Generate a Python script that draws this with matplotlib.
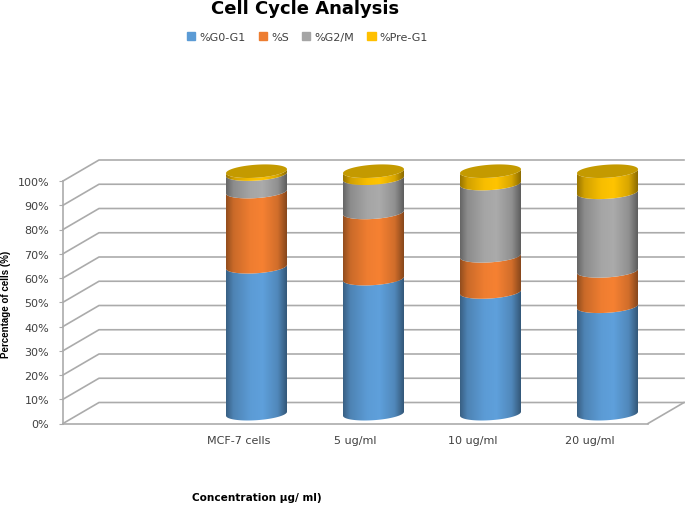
import numpy as np
import matplotlib
matplotlib.use("Agg")
import matplotlib.pyplot as plt
from matplotlib.patches import Patch, Polygon
from matplotlib.colors import to_rgb

categories = ["MCF-7 cells", "5 ug/ml", "10 ug/ml", "20 ug/ml"]
g0_g1 = [60.6, 55.7, 50.2, 44.3]
s_phase = [31.0, 27.3, 14.9, 14.6]
g2_m = [7.2, 14.1, 29.8, 32.4]
pre_g1 = [1.2, 2.9, 5.1, 8.7]
series_names = ["%G0-G1", "%S", "%G2/M", "%Pre-G1"]
series_values = [g0_g1, s_phase, g2_m, pre_g1]
series_colors = ["#5B9BD5", "#ED7D31", "#A5A5A5", "#FFC000"]
bright_colors = ["#62A5E2", "#FF8533", "#B0B0B0", "#FFC800"]
top_face = "#C49A00"
grid_color = "#ABABAB"
text_color = "#404040"

W, H = 685, 506
X0, X1, Y0, Y1 = 63, 648, 424.5, 182   # front floor/axis box in pixels
PX_X = 5 / (X1 - X0)                   # category units per pixel
PX_Y = 100 / (Y0 - Y1)                 # percent per pixel
DEPTH_X, DEPTH_Y = 36 * PX_X, 21 * PX_Y
RX, RY, TILT = 30.5, 6.5, 0.065        # cylinder shape in pixels
CYL_Y = 9.8 * PX_Y                     # cylinder centre above the front floor

fig = plt.figure(figsize=(W / 100, H / 100), dpi=100)
ax = fig.add_axes([X0 / W, 1 - Y0 / H, (X1 - X0) / W, (Y0 - Y1) / H])


def ring(cx, level, t):
    """Points of a tilted ellipse around a cylinder at height level."""
    px = RX * np.cos(t)
    py = RY * np.sin(t) + TILT * px
    return cx + DEPTH_X / 2 + px * PX_X, level + CYL_Y + py * PX_Y


def shade(color, bright):
    """One row of colours across the cylinder, dark at both edges."""
    stops = np.array([0, 0.12, 0.4, 0.6, 0.85, 1])
    amount = np.array([0.6, 0.82, 0.97, 1, 0.85, 0.55])
    pos = np.linspace(0, 1, 128)
    k = np.interp(pos, stops, amount)
    base = np.array(to_rgb(bright)) * 0.5 + np.array(to_rgb(color)) * 0.5
    return (k[:, None] * base)[None, :, :]


# walls and floor
levels = np.arange(0, 101, 10)
for lv in levels:
    ax.plot([-1.5, -1.5 + DEPTH_X, 3.5 + DEPTH_X],
            [lv, lv + DEPTH_Y, lv + DEPTH_Y],
            color=grid_color, lw=1.2, clip_on=False, zorder=1)
ax.plot([3.5, 3.5 + DEPTH_X], [0, DEPTH_Y], color=grid_color, lw=1.2,
        clip_on=False, zorder=1)

# cylinders
t_front = np.linspace(np.pi, 2 * np.pi, 60)
for i, cat in enumerate(categories):
    bottom = 0
    for vals, col, bright in zip(series_values, series_colors, bright_colors):
        top = bottom + vals[i]
        xa, ya = ring(i, bottom, t_front)
        xb, yb = ring(i, top, t_front[::-1])
        outline = np.column_stack([np.r_[xa, xb], np.r_[ya, yb]])
        xl = i + DEPTH_X / 2 - RX * PX_X
        xr = i + DEPTH_X / 2 + RX * PX_X
        im = ax.imshow(shade(col, bright), extent=[xl, xr, -10, 120],
                       aspect="auto", interpolation="bilinear", zorder=3)
        im.set_clip_box(fig.bbox)   # tops reach above the axes box
        im.set_clip_path(Polygon(outline, transform=ax.transData))
        bottom = top
    tx, ty = ring(i, bottom, np.linspace(0, 2 * np.pi, 120))
    ax.fill(tx, ty, color=top_face, lw=0, clip_on=False, zorder=4)

ax.set_xlim(-1.5, 3.5)
ax.set_ylim(0, 100)
ax.set_xticks(range(len(categories)))
ax.set_xticklabels(categories, fontsize=8, color=text_color)
ax.set_yticks(levels)
ax.set_yticklabels([f"{v}%" for v in levels], fontsize=8, color=text_color)
ax.tick_params(axis="x", length=0, pad=8)
ax.tick_params(axis="y", length=3, color=grid_color, pad=7)
for side in ["top", "right"]:
    ax.spines[side].set_visible(False)
for side in ["left", "bottom"]:
    ax.spines[side].set_color(grid_color)
    ax.spines[side].set_linewidth(1.2)

ax.set_ylabel("Percentage of cells (%)", fontsize=7, fontweight="bold",
              family=["Liberation Sans Narrow", "Liberation Sans"])
ax.yaxis.set_label_coords((11 - X0) / (X1 - X0), (Y0 - 304) / (Y0 - Y1))
ax.set_xlabel("Concentration µg/ ml)", fontsize=7.6, fontweight="bold")
ax.xaxis.set_label_coords((257 - X0) / (X1 - X0), (Y0 - 493) / (Y0 - Y1))

fig.text(305 / W, 1 - 9 / H, "Cell Cycle Analysis", fontsize=13,
         fontweight="bold", ha="center", va="center")

handles = [Patch(color=c, label=n) for c, n in zip(series_colors, series_names)]
fig.legend(handles=handles, ncol=4, frameon=False, fontsize=8,
           labelcolor=text_color, loc="center", bbox_to_anchor=(307.5 / W, 1 - 38 / H),
           handlelength=0.75, handleheight=0.75, handletextpad=0.35,
           columnspacing=1.2)

fig.savefig("out.png", dpi=100)
